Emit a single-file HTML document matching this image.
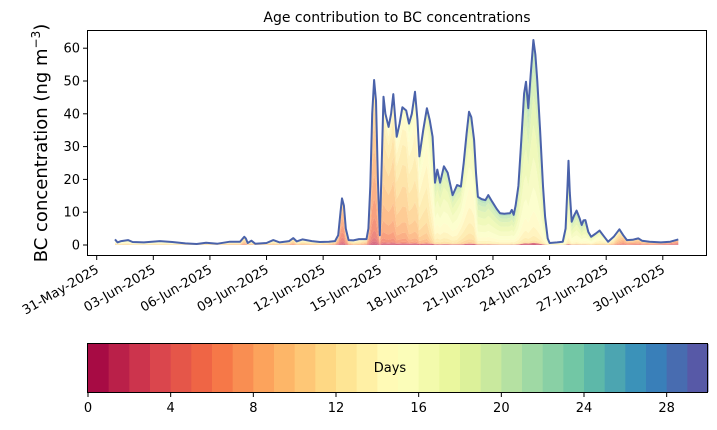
<!DOCTYPE html>
<html><head><meta charset="utf-8"><style>
body{margin:0;background:#fff;}
svg text{font-family:"DejaVu Sans","Liberation Sans",sans-serif;fill:#000;}
</style></head><body>
<svg id="c" width="717" height="425" xmlns="http://www.w3.org/2000/svg"></svg>
<script>
// day offset from 31-May-2025
const days=[0.97,1.1,1.3,1.66,1.9,2.5,3.35,4.0,4.7,5.3,5.8,6.4,7.06,7.6,7.75,7.82,7.9,8.0,8.2,8.4,9.0,9.36,9.7,10.2,10.42,10.6,10.9,11.4,11.83,12.3,12.63,12.8,12.92,13.0,13.1,13.2,13.35,13.6,13.9,14.3,14.4,14.5,14.6,14.7,14.8,14.9,15.0,15.08,15.2,15.3,15.47,15.6,15.72,15.9,16.05,16.2,16.4,16.55,16.7,16.87,17.0,17.1,17.3,17.5,17.65,17.8,17.93,18.05,18.2,18.4,18.6,18.86,19.1,19.3,19.45,19.6,19.73,19.85,20.0,20.1,20.2,20.4,20.6,20.75,20.96,21.2,21.37,21.6,21.9,22.0,22.1,22.2,22.35,22.5,22.65,22.75,22.87,23.0,23.14,23.25,23.35,23.5,23.65,23.76,23.9,24.0,24.4,24.7,24.85,24.95,25.0,25.07,25.17,25.3,25.43,25.6,25.7,25.8,25.9,26.05,26.2,26.45,26.65,26.9,27.1,27.4,27.7,27.9,28.1,28.4,28.7,28.9,29.3,29.9,30.4,30.82];
const totals=[1.7,0.8,1.2,1.5,0.9,0.8,1.2,0.9,0.5,0.3,0.7,0.4,1.0,1.0,2.0,2.5,2.0,0.6,1.3,0.4,0.6,1.5,0.8,1.2,2.1,1.1,1.7,1.2,0.9,1.0,1.2,3,10,14.2,12,5,1.5,1.4,1.8,1.8,5,18,40,50.3,44,20,3,20,45.2,40,36,40,46,33,37,42,41,37,40,46.7,38,27,35,41.7,38,33,19,23,19,24,22,15.2,18.3,17.8,25,34,40.6,39,32,22,14.7,14,13.7,15.2,13.2,11,9.7,9.5,9.7,10.7,9.2,12,18,32,46.2,49.8,41.7,52,62.5,58,50,35,18,8.6,2,0.6,0.8,1.0,5,18,25.7,16,7.1,9,10.5,8,6.1,7.5,7.6,4,2.5,3.5,4.4,2.5,1.0,2.5,4.8,3,1.5,1.6,2.0,1.3,1.0,0.8,1.0,1.7];
const meanAge=[14,14,14,14,14,14,14,14,13,13,13,13,12,12,10,10,10,12,12,12,12,12,12,11,10,12,12,12,12,11,10,8,7,7,7,8,10,12,12,10,8,8,8,8,8,8,9,9,10,10,10,10,10,11,11,11,11,12,12,12,12,13,13,13,14,15,16,16,16,16,16,16,16,15,15,15,15,15,15,16,17,17,17,17,17,17,17,17,17,17,17,17,17,17,17,17,17,17,17,17,17,17,17,17,17,16,15,16,17,17,17,17,17,17,17,17,17,17,17,16,16,15,15,14,13,12,10,8,8,8,8,8,8,7,6,6];
const yTicks=[0,10,20,30,40,50,60];
const xTickLabels=["31-May-2025","03-Jun-2025","06-Jun-2025","09-Jun-2025","12-Jun-2025","15-Jun-2025","18-Jun-2025","21-Jun-2025","24-Jun-2025","27-Jun-2025","30-Jun-2025"];
const xTickDays=[0,3,6,9,12,15,18,21,24,27,30];
const cbTicks=[0,4,8,12,16,20,24,28];

const NS="http://www.w3.org/2000/svg",svg=document.getElementById('c');
function el(t,a,p){const e=document.createElementNS(NS,t);for(const k in a)e.setAttribute(k,a[k]);(p||svg).appendChild(e);return e;}
const X=d=>96.7+d*18.87, Y=v=>245-v*3.28;
const spec=["#9e0142","#d53e4f","#f46d43","#fdae61","#fee08b","#ffffbf","#e6f598","#abdda4","#66c2a5","#3288bd","#5e4fa2"];
function hx(h){return [1,3,5].map(i=>parseInt(h.substr(i,2),16));}
function cmap(t){const p=t*10,i=Math.min(9,Math.floor(p)),f=p-i,a=hx(spec[i]),b=hx(spec[i+1]);return "rgb("+a.map((v,k)=>Math.round(v+(b[k]-v)*f)).join(",")+")";}

const NB=30;
const shares=days.map((d,i)=>{let w=[],s=0;for(let b=0;b<NB;b++){let g=Math.exp(-Math.pow((b-meanAge[i])/2.5,2)/2);w.push(g);s+=g;}
  w=w.map(x=>x/s*0.99);w[1]+=0.005;w[2]+=0.005;return w;});
const layers=el('g',{});  
let base=days.map(()=>0);
for(let b=0;b<NB;b++){
  const top=base.map((v,i)=>v+totals[i]*shares[i][b]);
  let pts=days.map((d,i)=>X(d).toFixed(1)+","+Y(top[i]).toFixed(1));
  for(let i=days.length-1;i>=0;i--)pts.push(X(days[i]).toFixed(1)+","+Y(base[i]).toFixed(1));
  const p=el('polygon',{points:pts.join(" "),fill:cmap((b+0.5)/NB),'fill-opacity':0.7},layers);
  
  
  base=top;
}
const line=el('polyline',{points:days.map((d,i)=>X(d).toFixed(1)+","+Y(totals[i]).toFixed(1)).join(" "),fill:"none",stroke:"#4a62aa","stroke-width":2,"stroke-linejoin":"round"});



const frame=el('rect',{x:87.5,y:30.5,width:619,height:225,fill:"none",stroke:"#000","stroke-width":1});



yTicks.forEach(v=>{el('line',{x1:83,x2:87.5,y1:Y(v),y2:Y(v),stroke:"#000"});
  const t=el('text',{x:80,y:Y(v)+4.5,'text-anchor':'end','font-size':13});t.textContent=v;
  });
xTickDays.forEach((d,i)=>{const x=X(d);el('line',{x1:x,x2:x,y1:255.5,y2:260,stroke:"#000"});
  const t=el('text',{x:x+3,y:272,'text-anchor':'end','font-size':13,transform:`rotate(-30 ${x+3} 272)`});t.textContent=xTickLabels[i];
  });

const title=el('text',{x:397,y:22,'text-anchor':'middle','font-size':14});title.textContent="Age contribution to BC concentrations";

const yl=el('text',{x:47,y:143,'text-anchor':'middle','font-size':18,transform:'rotate(-90 47 143)'});
yl.innerHTML='BC concentration (ng m<tspan dy="-7" font-size="12">−3</tspan><tspan dy="7">)</tspan>';


const cb=el('g',{});
const cx0=88,cw=620/30;
for(let b=0;b<30;b++){const r=el('rect',{x:cx0+b*cw,y:344,width:cw+0.5,height:48,fill:cmap((b+0.5)/30)},cb);
  }
el('rect',{x:87.5,y:343.5,width:620,height:49,fill:"none",stroke:"#000"},cb);
cbTicks.forEach(v=>{const x=cx0+v*cw;el('line',{x1:x,x2:x,y1:392.5,y2:397,stroke:"#000"},cb);
  const t=el('text',{x:x,y:412,'text-anchor':'middle','font-size':13},cb);t.textContent=v;
  });
const dl=el('text',{x:390,y:372,'text-anchor':'middle','font-size':13},cb);dl.textContent="Days";

</script>
</body></html>
